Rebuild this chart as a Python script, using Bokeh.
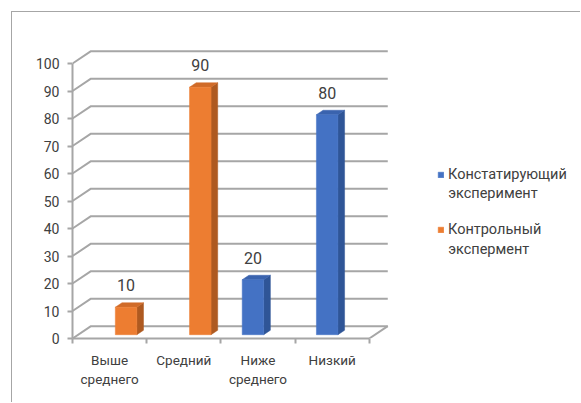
from bokeh.plotting import figure
from bokeh.models import FixedTicker, Legend, LegendItem
from bokeh.core.properties import value
from bokeh.embed import file_html
from bokeh.resources import INLINE

# ---- data ----
categories = ["Выше\nсреднего", "Средний", "Ниже\nсреднего", "Низкий"]
series_first = ["Констатирующий", "Контрольный"]
series_second = ["эксперимент", "экспермент"]
blue_values = [None, None, 20, 80]     # Констатирующий эксперимент
orange_values = [10, 90, None, None]   # Контрольный экспермент
y_ticks = [0, 10, 20, 30, 40, 50, 60, 70, 80, 90, 100]

# ---- styling / geometry ----
FONT = "Roboto"
TXT = "#404040"
GRID = "#a6a6a6"
PX_CAT = 74.2
PX_VAL = 2.75
W, H = 569, 391
LEFT, BOTTOM = 60, 65
DX, DY = 0.249, 4.47          # depth of the 3-D floor (data units)
F1, F2 = 0.31, 0.67           # bar front / back depth fraction
BW = 0.29                     # bar width
OFFS = [-0.145, 0.145]

x_end = (W - LEFT) / PX_CAT
y_end = (H - BOTTOM) / PX_VAL

p = figure(width=W, height=H, x_range=(0, x_end), y_range=(0, y_end),
           output_backend="svg", toolbar_location=None,
           min_border_left=LEFT, min_border_bottom=BOTTOM,
           min_border_top=0, min_border_right=0,
           outline_line_color=None, margin=(11, 0, 0, 11))
p.styles = {"border-top": "1px solid #a6a6a6", "border-left": "1px solid #a6a6a6"}
p.xgrid.visible = False
p.ygrid.visible = False

# back wall gridlines + left wall diagonals
n = len(categories)
gx, gy = [], []
for v in y_ticks:
    gx.append([0, DX, n + DX])
    gy.append([v, v + DY, v + DY])
gx.append([n, n + DX])
gy.append([0, DY])
p.multi_line(gx, gy, line_color=GRID, line_width=2)

# bars
colors = [("#4472C4", "#2F5597", "#3A63AE"), ("#ED7D31", "#AE5A21", "#D06B28")]
front_renderers = []
lab_x, lab_y, lab_t = [], [], []
for si, vals in enumerate([blue_values, orange_values]):
    front, side, top = colors[si]
    xs_f, bot_f, top_f = [], [], []
    side_x, side_y, top_x, top_y = [], [], [], []
    for ci, v in enumerate(vals):
        if v is None:
            continue
        xc = ci + 0.5 + OFFS[si] + F1 * DX
        b = F1 * DY
        t = v + F1 * DY
        xl, xr = xc - BW / 2, xc + BW / 2
        ddx, ddy = (F2 - F1) * DX, (F2 - F1) * DY
        xs_f.append(xc); bot_f.append(b); top_f.append(t)
        side_x.append([xr, xr + ddx, xr + ddx, xr])
        side_y.append([b, b + ddy, t + ddy, t])
        top_x.append([xl, xr, xr + ddx, xl + ddx])
        top_y.append([t, t, t + ddy, t + ddy])
        lab_x.append(xc); lab_y.append(t + 8.0); lab_t.append(str(v))
    p.patches(side_x, side_y, fill_color=side, line_color=side, line_width=0.5)
    p.patches(top_x, top_y, fill_color=top, line_color=top, line_width=0.5)
    r = p.vbar(x=xs_f, bottom=bot_f, top=top_f, width=BW,
               fill_color=front, line_color=front, line_width=0.5)
    front_renderers.append(r)

p.text(x=lab_x, y=lab_y, text=lab_t, text_align="center", text_baseline="middle",
       text_font=value(FONT), text_font_size="16px", text_color=TXT)

# axes
ya = p.yaxis[0]
ya.ticker = FixedTicker(ticks=y_ticks)
ya.bounds = (0, 100)
ya.axis_line_color = GRID
ya.axis_line_width = 2
ya.major_tick_line_color = GRID
ya.major_tick_line_width = 2
ya.major_tick_out = 5
ya.major_tick_in = 0
ya.minor_tick_line_color = None
ya.major_label_standoff = 8
ya.major_label_text_font = FONT
ya.major_label_text_font_size = "14px"
ya.major_label_text_color = TXT

xa = p.xaxis[0]
xa.ticker = FixedTicker(ticks=[i + 0.5 for i in range(n)], minor_ticks=list(range(n + 1)))
xa.bounds = (0, n)
xa.major_label_overrides = {i + 0.5: c for i, c in enumerate(categories)}
xa.axis_line_color = GRID
xa.axis_line_width = 2
xa.major_tick_line_color = None
xa.major_tick_out = 0
xa.minor_tick_line_color = GRID
xa.minor_tick_line_width = 2
xa.minor_tick_out = 5
xa.minor_tick_in = 0
xa.major_label_standoff = 8
xa.major_label_text_font = FONT
xa.major_label_text_font_size = "13.5px"
xa.major_label_text_line_height = 1.2
xa.major_label_text_color = TXT

# legend (first line of each name) + second lines below
LEG_FS = 14.5
legend = Legend(items=[LegendItem(label=series_first[i], renderers=[front_renderers[i]])
                       for i in range(2)],
                location=(365, 100), glyph_width=7, glyph_height=7,
                label_text_font=FONT, label_text_font_size=f"{LEG_FS}px",
                label_text_color=TXT, label_standoff=4, spacing=38,
                padding=0, margin=0, border_line_color=None,
                background_fill_alpha=0)
p.add_layout(legend)

leg_x = (447.7 - 72) / PX_CAT
leg_y = [(338 - 193.3) / PX_VAL, (338 - 249.3) / PX_VAL]
p.text(x=[leg_x, leg_x], y=leg_y, text=series_second, text_align="left",
       text_baseline="middle", text_font=value(FONT),
       text_font_size=f"{LEG_FS}px", text_color=TXT)

open("out.html", "w").write(file_html(p, INLINE))
